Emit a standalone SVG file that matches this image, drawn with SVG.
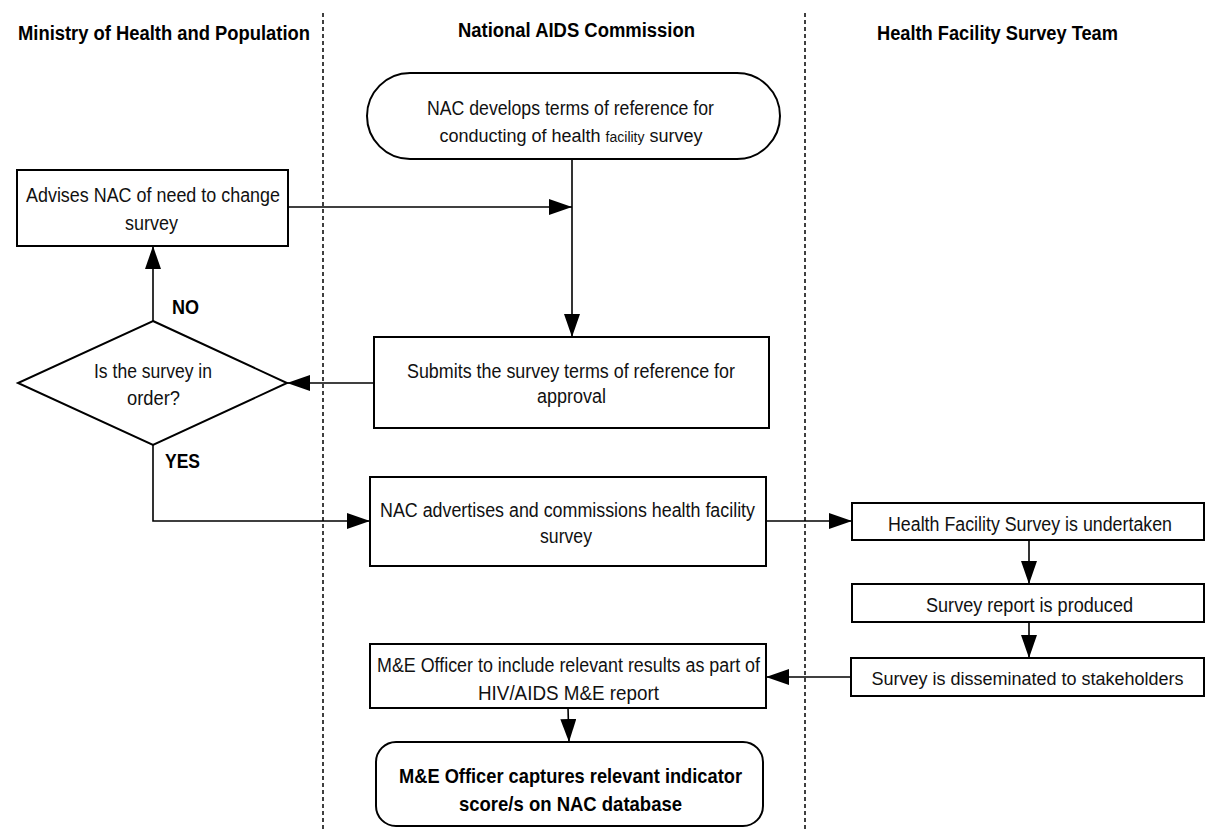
<svg xmlns="http://www.w3.org/2000/svg" width="1206" height="830" viewBox="0 0 1206 830">
<style>
.box{fill:#fff;stroke:#000;stroke-width:2}
.lane{stroke:#000;stroke-width:1.5;stroke-dasharray:4 3;fill:none}
.con{stroke:#000;stroke-width:1.6;fill:none;marker-end:url(#ah)}
.t{font-family:"Liberation Sans Narrow","Liberation Sans",Arial,sans-serif;font-size:20px;fill:#111;text-anchor:middle}
.b{font-family:"Liberation Sans Narrow","Liberation Sans",Arial,sans-serif;font-size:21px;font-weight:bold;fill:#000;text-anchor:middle}
.h{font-size:20px}
.s18{font-size:18px}
.s14{font-size:14px}
</style>
<defs>
<marker id="ah" markerUnits="userSpaceOnUse" markerWidth="24" markerHeight="18" refX="23" refY="8" orient="auto">
<path d="M0,0 L23,8 L0,16 z" fill="#000"/>
</marker>
</defs>
<rect width="1206" height="830" fill="#fff"/>
<g id="lanes">
<line class="lane" x1="323" y1="13" x2="323" y2="830"/>
<line class="lane" x1="805" y1="13" x2="805" y2="830"/>
<text class="b h" x="164" y="40" textLength="292" lengthAdjust="spacingAndGlyphs">Ministry of Health and Population</text>
<text class="b h" x="576.5" y="37" textLength="237" lengthAdjust="spacingAndGlyphs">National AIDS Commission</text>
<text class="b h" x="997.5" y="40" textLength="241" lengthAdjust="spacingAndGlyphs">Health Facility Survey Team</text>
</g>
<g id="connectors">
<path class="con" d="M572,159 L572,337"/>
<path class="con" d="M288,207 L572,207"/>
<path class="con" d="M374,383 L287,383"/>
<path class="con" d="M153,321 L153,246"/>
<path class="con" d="M153,445 L153,521 L370,521"/>
<path class="con" d="M766,521 L852,521"/>
<path class="con" d="M1029,540 L1029,584"/>
<path class="con" d="M1029,622 L1029,658"/>
<path class="con" d="M851,677 L766,677"/>
<path class="con" d="M568,708 L569,742"/>
<text class="b" x="185.5" y="314" textLength="27" lengthAdjust="spacingAndGlyphs">NO</text>
<text class="b" x="182.5" y="468" textLength="35" lengthAdjust="spacingAndGlyphs">YES</text>
</g>
<g id="n-develop">
<rect class="box" x="367" y="73" width="413" height="86" rx="43" ry="43"/>
<text class="t" x="570.5" y="115" textLength="287" lengthAdjust="spacingAndGlyphs">NAC develops terms of reference for</text>
<text class="t s18" x="571" y="142">conducting of health <tspan class="s14">facility</tspan> survey</text>
</g>
<g id="n-advises">
<rect class="box" x="17" y="170" width="271" height="76"/>
<text class="t" x="153" y="202" textLength="254" lengthAdjust="spacingAndGlyphs">Advises NAC of need to change</text>
<text class="t" x="151.5" y="230" textLength="53" lengthAdjust="spacingAndGlyphs">survey</text>
</g>
<g id="n-decision">
<polygon class="box" points="153,321 287,383 153,445 18,383"/>
<text class="t" x="153" y="378" textLength="118" lengthAdjust="spacingAndGlyphs">Is the survey in</text>
<text class="t" x="153.5" y="405" textLength="53" lengthAdjust="spacingAndGlyphs">order?</text>
</g>
<g id="n-submit">
<rect class="box" x="374" y="337" width="395" height="91"/>
<text class="t" x="571" y="378" textLength="328" lengthAdjust="spacingAndGlyphs">Submits the survey terms of reference for</text>
<text class="t" x="571.5" y="403" textLength="69" lengthAdjust="spacingAndGlyphs">approval</text>
</g>
<g id="n-advertise">
<rect class="box" x="370" y="477" width="396" height="89"/>
<text class="t" x="567.5" y="517" textLength="375" lengthAdjust="spacingAndGlyphs">NAC advertises and commissions health facility</text>
<text class="t" x="566" y="543" textLength="52" lengthAdjust="spacingAndGlyphs">survey</text>
</g>
<g id="n-undertaken">
<rect class="box" x="852" y="503" width="352" height="37"/>
<text class="t" x="1030" y="531" textLength="284" lengthAdjust="spacingAndGlyphs">Health Facility Survey is undertaken</text>
</g>
<g id="n-report">
<rect class="box" x="852" y="584" width="352" height="38"/>
<text class="t" x="1029.5" y="612" textLength="207" lengthAdjust="spacingAndGlyphs">Survey report is produced</text>
</g>
<g id="n-disseminate">
<rect class="box" x="851" y="658" width="353" height="38"/>
<text class="t s18" x="1027.5" y="685">Survey is disseminated to stakeholders</text>
</g>
<g id="n-include">
<rect class="box" x="370" y="644" width="396" height="64"/>
<text class="t" x="568.5" y="672" textLength="383" lengthAdjust="spacingAndGlyphs">M&amp;E Officer to include relevant results as part of</text>
<text class="t" x="568.5" y="700" textLength="181" lengthAdjust="spacingAndGlyphs">HIV/AIDS M&amp;E report</text>
</g>
<g id="n-capture">
<rect class="box" x="376" y="742" width="387" height="84" rx="20" ry="20"/>
<text class="b" x="570.5" y="783" textLength="343" lengthAdjust="spacingAndGlyphs">M&amp;E Officer captures relevant indicator</text>
<text class="b" x="570.5" y="811" textLength="223" lengthAdjust="spacingAndGlyphs">score/s on NAC database</text>
</g>
</svg>
